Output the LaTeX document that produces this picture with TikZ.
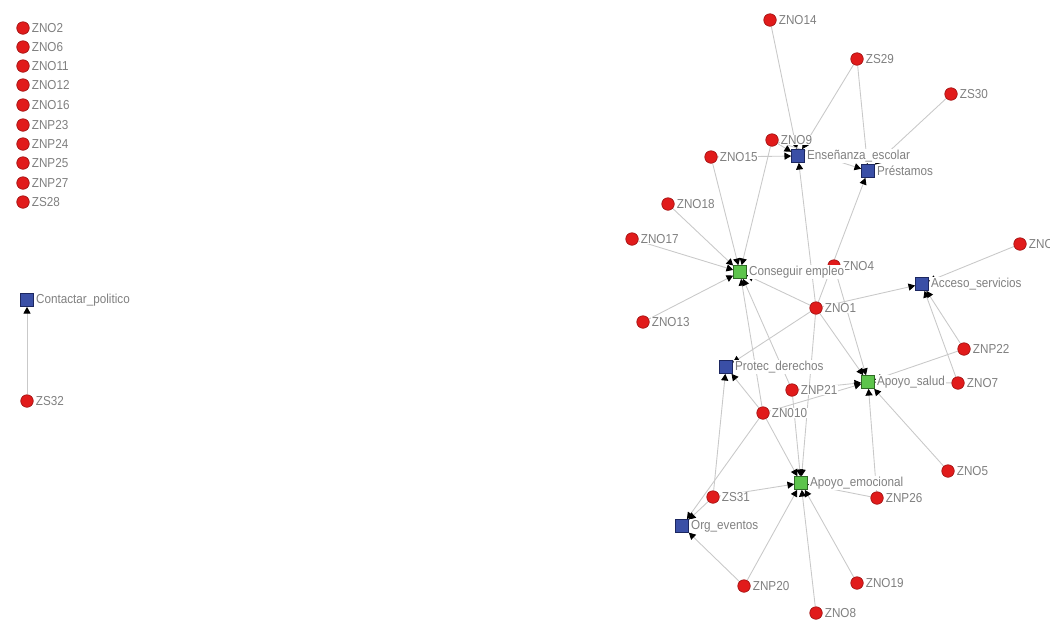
\documentclass[tikz,border=0pt]{standalone}
\usepackage{fontspec}
\setmainfont{Liberation Sans}[FakeStretch=0.9]
\usepackage{xcolor}
\usetikzlibrary{shapes,arrows.meta,positioning,backgrounds}

\definecolor{actred}{HTML}{E11B1B}
\definecolor{actedge}{HTML}{A31414}
\definecolor{resblue}{HTML}{3A4FA6}
\definecolor{blueedge}{HTML}{1C2760}
\definecolor{resgreen}{HTML}{5DC44C}
\definecolor{greenedge}{HTML}{2E6A24}
\definecolor{linegray}{HTML}{C9C9C9}
\definecolor{txtgray}{HTML}{808080}

\begin{document}
\begin{tikzpicture}[x=0.02cm, y=-0.02cm, label distance=0.6pt,
        every label/.style={font=\fontsize{7.4}{8}\selectfont, text=txtgray, fill=white, inner sep=0.5pt},
        actor/.style={circle, draw=actedge, fill=actred, minimum size=0.25cm, inner sep=0pt},
        resource/.style={rectangle, draw=blueedge, fill=resblue, minimum size=0.26cm, inner sep=0pt},
        support/.style={rectangle, draw=greenedge, fill=resgreen, minimum size=0.26cm, inner sep=0pt},
        tie/.style={draw=linegray, line width=0.5pt, -{Triangle[length=3.8pt,width=4pt,black]}}]
        \useasboundingbox (0,0) rectangle (1050,620);
        \clip (0,0) rectangle (1050,620);

        % isolated actors
        \node[actor, label=right:ZNO2] (zno2) at (23,28) {};
        \node[actor, label=right:ZNO6] (zno6) at (23,47) {};
        \node[actor, label=right:ZNO11] (zno11) at (23,66) {};
        \node[actor, label=right:ZNO12] (zno12) at (23,85) {};
        \node[actor, label=right:ZNO16] (zno16) at (23,105) {};
        \node[actor, label=right:ZNP23] (znp23) at (23,125) {};
        \node[actor, label=right:ZNP24] (znp24) at (23,144) {};
        \node[actor, label=right:ZNP25] (znp25) at (23,163) {};
        \node[actor, label=right:ZNP27] (znp27) at (23,183) {};
        \node[actor, label=right:ZS28] (zs28) at (23,202) {};

        \node[resource, label=right:Contactar\_politico] (contactar) at (27,300) {};
        \node[actor, label=right:ZS32] (zs32) at (27,401) {};

        % main component
        \node[actor, label=right:ZNO14] (zno14) at (770,20) {};
        \node[actor, label=right:ZS29] (zs29) at (857,59) {};
        \node[actor, label=right:ZS30] (zs30) at (951,94) {};
        \node[actor, label=right:ZNO9] (zno9) at (772,140) {};
        \node[actor, label=right:ZNO15] (zno15) at (711,157) {};
        \node[resource, label=right:Enseñanza\_escolar] (ensenanza) at (798,156) {};
        \node[resource, label=right:Préstamos] (prestamos) at (868,171) {};
        \node[actor, label=right:ZNO18] (zno18) at (668,204) {};
        \node[actor, label=right:ZNO17] (zno17) at (632,239) {};
        \node[actor, label=right:ZNO4] (zno4) at (834,266) {};
        \node[support, label=right:Conseguir empleo] (conseguir) at (740,272) {};
        \node[actor, label=right:ZNO3] (zno3) at (1020,244) {};
        \node[resource, label=right:Acceso\_servicios] (acceso) at (922,284) {};
        \node[actor, label=right:ZNO1] (zno1) at (816,308) {};
        \node[actor, label=right:ZNO13] (zno13) at (643,322) {};
        \node[actor, label=right:ZNP22] (znp22) at (964,349) {};
        \node[resource, label=right:Protec\_derechos] (protec) at (726,367) {};
        \node[support, label=right:Apoyo\_salud] (salud) at (868,382) {};
        \node[actor, label=right:ZNO7] (zno7) at (958,383) {};
        \node[actor, label=right:ZNP21] (znp21) at (792,390) {};
        \node[actor, label=right:ZN010] (zn010) at (763,413) {};
        \node[actor, label=right:ZNO5] (zno5) at (948,471) {};
        \node[support, label=right:Apoyo\_emocional] (emocional) at (801,483) {};
        \node[actor, label=right:ZS31] (zs31) at (713,497) {};
        \node[actor, label=right:ZNP26] (znp26) at (877,498) {};
        \node[resource, label=right:Org\_eventos] (org) at (682,526) {};
        \node[actor, label=right:ZNP20] (znp20) at (744,586) {};
        \node[actor, label=right:ZNO19] (zno19) at (857,583) {};
        \node[actor, label=right:ZNO8] (zno8) at (816,613) {};

        \begin{scope}[on background layer]
        \draw[tie] (zs32) -- (contactar);

        \draw[tie] (zno14) -- (ensenanza);
        \draw[tie] (zs29) -- (ensenanza);
        \draw[tie] (zno9) -- (ensenanza);
        \draw[tie] (zno15) -- (ensenanza);
        \draw[tie] (zno1) -- (ensenanza);
        \draw[tie] (zs29) -- (prestamos);
        \draw[tie] (zs30) -- (prestamos);
        \draw[tie] (zno9) -- (prestamos);
        \draw[tie] (zno1) -- (prestamos);

        \draw[tie] (zno9) -- (conseguir);
        \draw[tie] (zno15) -- (conseguir);
        \draw[tie] (zno18) -- (conseguir);
        \draw[tie] (zno17) -- (conseguir);
        \draw[tie] (zno13) -- (conseguir);
        \draw[tie] (zno1) -- (conseguir);
        \draw[tie] (zn010) -- (conseguir);
        \draw[tie] (znp21) -- (conseguir);

        \draw[tie] (zno1) -- (acceso);
        \draw[tie] (zno3) -- (acceso);
        \draw[tie] (znp22) -- (acceso);
        \draw[tie] (zno7) -- (acceso);

        \draw[tie] (zno1) -- (protec);
        \draw[tie] (zn010) -- (protec);
        \draw[tie] (zs31) -- (protec);

        \draw[tie] (zno1) -- (salud);
        \draw[tie] (zno4) -- (salud);
        \draw[tie] (znp22) -- (salud);
        \draw[tie] (zno7) -- (salud);
        \draw[tie] (znp21) -- (salud);
        \draw[tie] (zn010) -- (salud);
        \draw[tie] (zno5) -- (salud);
        \draw[tie] (znp26) -- (salud);

        \draw[tie] (zno1) -- (emocional);
        \draw[tie] (znp21) -- (emocional);
        \draw[tie] (zn010) -- (emocional);
        \draw[tie] (zs31) -- (emocional);
        \draw[tie] (znp26) -- (emocional);
        \draw[tie] (znp20) -- (emocional);
        \draw[tie] (zno8) -- (emocional);
        \draw[tie] (zno19) -- (emocional);

        \draw[tie] (zn010) -- (org);
        \draw[tie] (zs31) -- (org);
        \draw[tie] (znp20) -- (org);
        \end{scope}
\end{tikzpicture}
\end{document}
